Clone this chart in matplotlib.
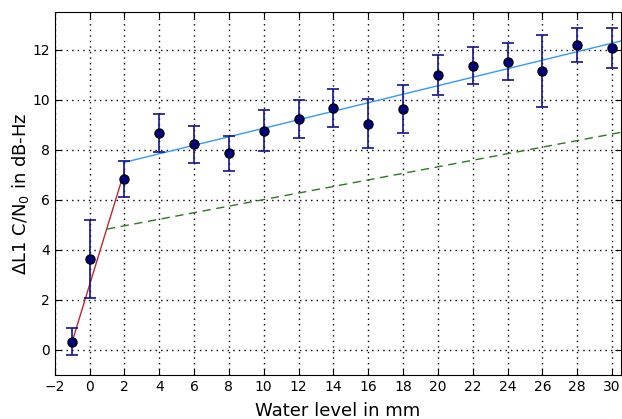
import matplotlib
matplotlib.use("Agg")
import matplotlib.pyplot as plt
import numpy as np

# measured points
water_level = [-1, 0, 2, 4, 6, 8, 10, 12, 14, 16, 18, 20, 22, 24, 26, 28, 30]
delta_cn0 = [0.33, 3.62, 6.82, 8.68, 8.22, 7.87, 8.76, 9.22, 9.68, 9.05, 9.64,
             10.98, 11.36, 11.52, 11.15, 12.18, 12.08]
delta_err = [0.55, 1.56, 0.72, 0.75, 0.73, 0.70, 0.82, 0.76, 0.75, 0.97, 0.96,
             0.79, 0.75, 0.75, 1.43, 0.67, 0.80]

# fitted lines: (x range, intercept, slope)
red_x = [-1, 2]
red_coef = (2.60, 2.27)
blue_x = [2, 30.5]
blue_coef = (7.16, 0.170)
green_x = [1, 30.5]
green_coef = (4.70, 0.131)

matplotlib.rcParams['xtick.direction'] = 'in'
matplotlib.rcParams['ytick.direction'] = 'in'
matplotlib.rcParams['xtick.top'] = True
matplotlib.rcParams['ytick.right'] = True
matplotlib.rcParams['xtick.major.size'] = 4
matplotlib.rcParams['ytick.major.size'] = 4

fig = plt.figure(figsize=(6.22, 4.19), dpi=100)
ax = fig.add_axes([0.088, 0.105, 0.910, 0.866])

rx = np.array(red_x)
ax.plot(rx, red_coef[0] + red_coef[1] * rx, color='#c0282d', lw=1)
bx = np.array(blue_x)
ax.plot(bx, blue_coef[0] + blue_coef[1] * bx, color='#3399ff', lw=1)
gx = np.array(green_x)
ax.plot(gx, green_coef[0] + green_coef[1] * gx, color='#2a7a1e', lw=1, ls='--', dashes=(6, 4))

ax.errorbar(water_level, delta_cn0, yerr=delta_err, fmt='o', color='#000080',
            ecolor='#14148c', mec='black', ms=6.5, capsize=4, elinewidth=1.2,
            capthick=1.2, zorder=3)

ax.set_xlim(-2, 30.5)
ax.set_ylim(-1, 13.5)
ax.set_xticks(np.arange(-2, 31, 2))
ax.set_yticks(np.arange(0, 13, 2))
ax.grid(True, color='black', ls=(0, (1, 3)), lw=1)
ax.tick_params(labelsize=10)

ax.set_xlabel('Water level in mm', fontsize=13, labelpad=6)
ax.set_ylabel(r'$\Delta$L1 C/N$_0$ in dB-Hz', fontsize=13, labelpad=1)

plt.savefig("out.png")
